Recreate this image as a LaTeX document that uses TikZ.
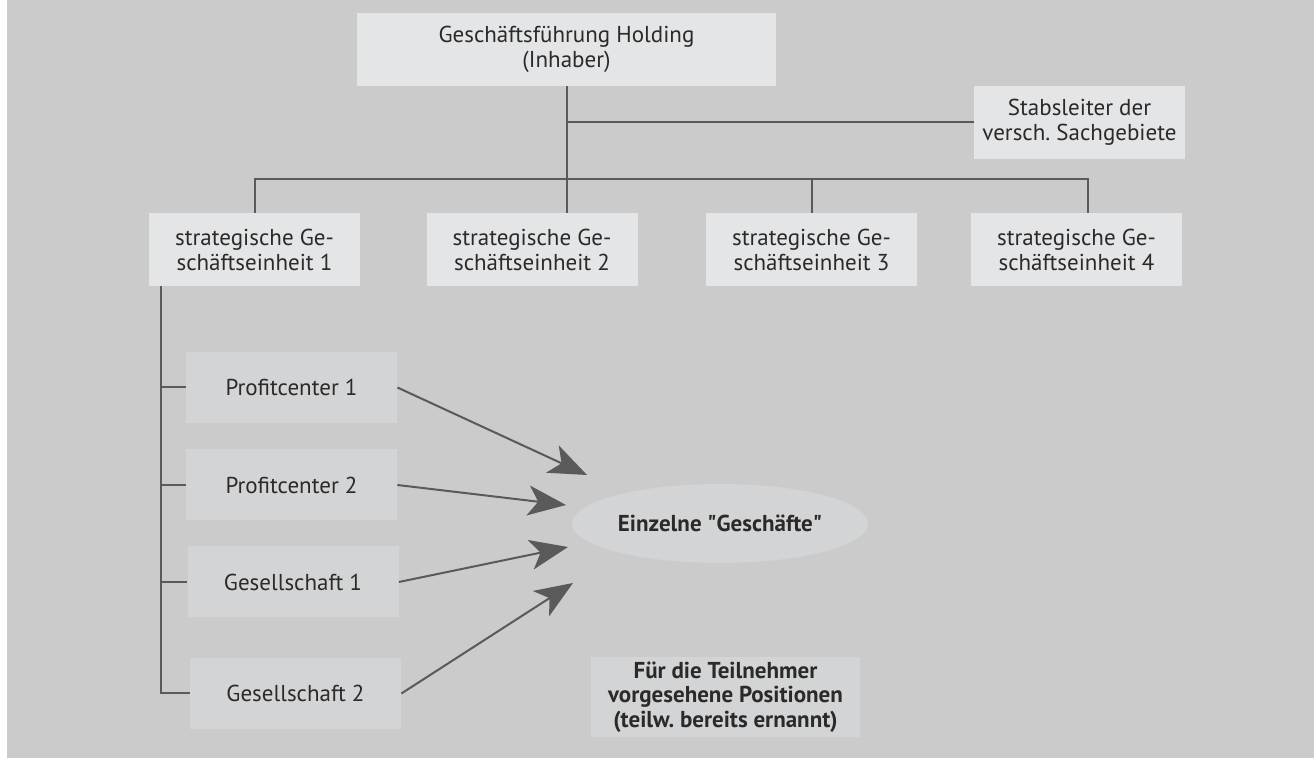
\documentclass[tikz,border=0pt]{standalone}
\usepackage{fontspec}
\setmainfont{PT Sans}
\usepackage{tikz}
\usetikzlibrary{arrows.meta,positioning,calc,shapes.geometric}
\frenchspacing

\definecolor{bggray}{HTML}{CBCBCB}
\definecolor{boxlight}{HTML}{E4E5E7}
\definecolor{boxpale}{HTML}{D3D4D6}
\definecolor{linegray}{HTML}{5A5A5B}
\definecolor{textdark}{HTML}{2B2A29}

\begin{document}
\begin{tikzpicture}[x=0.5pt,y=-0.5pt,
  font=\fontsize{11.5}{12.5}\selectfont,
  unit/.style={rectangle,fill=boxlight,text=textdark,align=center,
    minimum width=105.5pt,minimum height=36.5pt,inner sep=0pt},
  post/.style={rectangle,fill=boxpale,text=textdark,align=center,
    minimum width=105.5pt,minimum height=35.5pt,inner sep=0pt},
  link/.style={draw=linegray,line width=1pt},
  feed/.style={draw=linegray,line width=1pt,
    -{Stealth[length=19pt,width=15pt,inset=5pt]}}]
\useasboundingbox (0,0) rectangle (1314,758);
\fill[white] (0,0) rectangle (7,758);
\fill[bggray] (7,0) rectangle (1314,758);

\node[unit,name=holding,minimum width=209.5pt] at (566.5,49.5) {Geschäftsführung Holding\\(Inhaber)};
\node[unit,name=stab] at (1079.5,122.5) {Stabsleiter der\\versch. Sachgebiete};

\node[unit,name=sge1] at (254.5,249.5) {strategische Ge-\\schäftseinheit 1};
\node[unit,name=sge2] at (532,249.5)   {strategische Ge-\\schäftseinheit 2};
\node[unit,name=sge3] at (811.5,249.5) {strategische Ge-\\schäftseinheit 3};
\node[unit,name=sge4] at (1076.5,249.5) {strategische Ge-\\schäftseinheit 4};

\node[post,name=pc1] at (291.5,387.5) {Profitcenter 1};
\node[post,name=pc2] at (291.5,485)   {Profitcenter 2};
\node[post,name=ges1] at (293,582)    {Gesellschaft 1};
\node[post,name=ges2] at (295.5,693.5) {Gesellschaft 2};

\node[ellipse,fill=boxpale,text=textdark,name=geschaefte,minimum width=148pt,minimum height=39.5pt,
  inner sep=0pt,font=\fontsize{11.5}{12.5}\selectfont\bfseries] at (720,523.5) {Einzelne \textquotedbl Geschäfte\textquotedbl};
\node[post,name=legend,minimum width=134.5pt,minimum height=40pt,
  font=\fontsize{11.5}{12.25}\selectfont\bfseries] at (725.5,697) {Für die Teilnehmer\\vorgesehene Positionen\\(teilw. bereits ernannt)};

\coordinate (bus) at (0,179);
\coordinate (drop4) at ([xshift=5.5pt]sge4.north);
\coordinate (spine) at ([xshift=-46.75pt]sge1.south);

\draw[link] (holding.south) -- (holding.south |- sge2.north);
\draw[link] (holding.south |- stab.west) -- (stab.west);
\draw[link] (sge1.north) -- (sge1.north |- bus) -- (drop4 |- bus) -- (drop4);
\draw[link] (sge3.north) -- (sge3.north |- bus);

\draw[link] (spine) |- (ges2.west);
\draw[link] (spine |- pc1.west) -- (pc1.west);
\draw[link] (spine |- pc2.west) -- (pc2.west);
\draw[link] (spine |- ges1.west) -- (ges1.west);

% Pfeile zu den Geschaeften
\coordinate (tip1) at (587,475);
\coordinate (tip2) at (566,505);
\coordinate (tip3) at (568,547);
\coordinate (tip4) at (573,583);
\draw[feed] (pc1.east) -- (tip1);
\draw[feed] (pc2.east) -- (tip2);
\draw[feed] (ges1.east) -- (tip3);
\draw[feed] (ges2.east) -- (tip4);
\end{tikzpicture}
\end{document}
